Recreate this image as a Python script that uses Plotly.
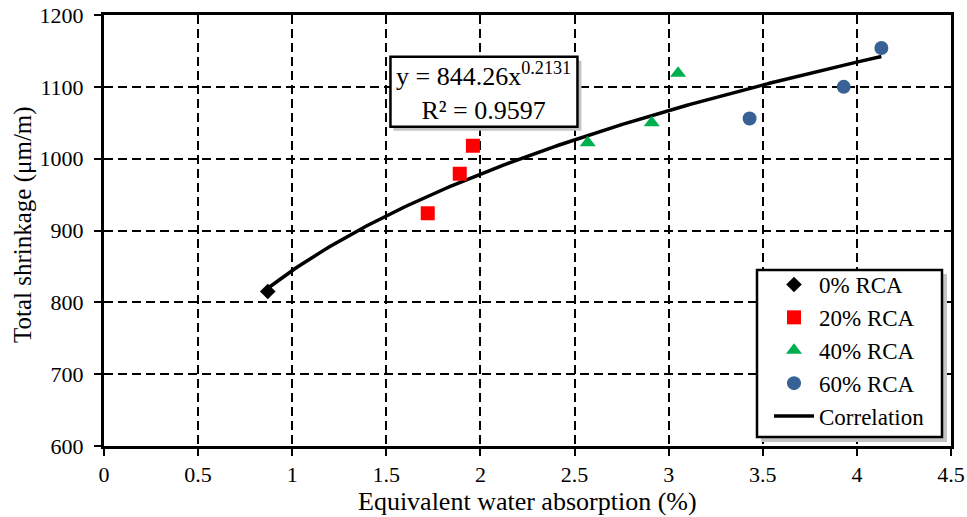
import numpy as np
import plotly.graph_objects as go

# Data
x0 = [0.87]
y0 = [815]
x20 = [1.72, 1.89, 1.96]
y20 = [924, 979, 1018]
x40 = [2.57, 2.91, 3.05]
y40 = [1022, 1050, 1119]
x60 = [3.43, 3.93, 4.13]
y60 = [1056, 1100, 1154]
fit_a = 844.26
fit_b = 0.2131
r2 = 0.9597
x_title = "Equivalent water absorption (%)"
y_title = "Total shrinkage (μm/m)"

FONT = "Liberation Serif, Times New Roman, serif"

all_x = x0 + x20 + x40 + x60
xc = np.linspace(min(all_x), max(all_x), 200)
yc = fit_a * xc ** fit_b

fig = go.Figure()
fig.add_trace(go.Scatter(x=xc, y=yc, mode="lines", name="Correlation",
                         line=dict(color="black", width=3.5), legendrank=5))
fig.add_trace(go.Scatter(x=x0, y=y0, mode="markers", name="0% RCA",
                         marker=dict(symbol="diamond", size=12, color="black"),
                         legendrank=1))
fig.add_trace(go.Scatter(x=x20, y=y20, mode="markers", name="20% RCA",
                         marker=dict(symbol="square", size=14, color="#FF0000"),
                         legendrank=2))
fig.add_trace(go.Scatter(x=x40, y=y40, mode="markers", name="40% RCA",
                         marker=dict(symbol="triangle-up", size=14, color="#00B050"),
                         legendrank=3))
fig.add_trace(go.Scatter(x=x60, y=y60, mode="markers", name="60% RCA",
                         marker=dict(symbol="circle", size=14, color="#386296"),
                         legendrank=4))

ML, MR, MT, MB = 104, 16, 15, 71
W, H = 967, 517
pw, ph = W - ML - MR, H - MT - MB

def px2paper(px, py):
    return (px - ML) / pw, (H - MB - py) / ph

# equation box (shadow + frame) anchored at the annotation position
eq_x, eq_y = 2.016, 1093
fig.add_shape(type="rect", xref="x", yref="y", xsizemode="pixel", ysizemode="pixel",
              xanchor=eq_x, yanchor=eq_y, x0=-90, x1=98, y0=-39, y1=31,
              fillcolor="#C4C4C4", line=dict(width=0), layer="above")
fig.add_shape(type="rect", xref="x", yref="y", xsizemode="pixel", ysizemode="pixel",
              xanchor=eq_x, yanchor=eq_y, x0=-93, x1=94, y0=-35, y1=35,
              fillcolor="white", line=dict(width=2.5, color="black"), layer="above")
eq_text = f"y = {fit_a:.2f}x<sup>{fit_b}</sup><br>R² = {r2}"
fig.add_annotation(x=eq_x, y=eq_y, xref="x", yref="y", text=eq_text, showarrow=False,
                   font=dict(family=FONT, size=26, color="black"), align="center")

# legend box (shadow + frame)
sx0, sy0 = px2paper(761, 442)
sx1, sy1 = px2paper(947, 274)
fig.add_shape(type="rect", xref="paper", yref="paper", x0=sx0, y0=sy0, x1=sx1, y1=sy1,
              fillcolor="#C4C4C4", line=dict(width=0), layer="above")
bx0, by0 = px2paper(757, 437)
bx1, by1 = px2paper(942, 270)
fig.add_shape(type="rect", xref="paper", yref="paper", x0=bx0, y0=by0, x1=bx1, y1=by1,
              fillcolor="white", line=dict(width=2.5, color="black"), layer="above")

lx, ly = px2paper(769, 263)

# axis titles
tx, ty = px2paper(527, 502)
fig.add_annotation(x=tx, y=ty, xref="paper", yref="paper", text=x_title, showarrow=False,
                   font=dict(family=FONT, size=26, color="black"),
                   xanchor="center", yanchor="middle")
tx, ty = px2paper(23, 225)
fig.add_annotation(x=tx, y=ty, xref="paper", yref="paper", text=y_title, showarrow=False,
                   textangle=-90, font=dict(family=FONT, size=25, color="black"),
                   xanchor="center", yanchor="middle")

axis_common = dict(
    showline=True, linecolor="black", linewidth=3, mirror=True,
    ticks="outside", ticklen=7, tickwidth=2, tickcolor="black",
    showgrid=True, gridcolor="black", gridwidth=1.5, griddash="9px,5px",
    zeroline=False, tickfont=dict(family=FONT, size=22, color="black"),
    automargin=False,
)

fig.update_layout(
    width=W, height=H,
    margin=dict(l=ML, r=MR, t=MT, b=MB),
    paper_bgcolor="white", plot_bgcolor="white",
    showlegend=True,
    legend=dict(x=lx, y=ly, xanchor="left", yanchor="top",
                bgcolor="rgba(0,0,0,0)", borderwidth=0, itemwidth=40,
                font=dict(family=FONT, size=23, color="black"),
                tracegroupgap=6, traceorder="normal"),
    xaxis=dict(range=[0, 4.5], dtick=0.5, **axis_common),
    yaxis=dict(range=[600, 1200], dtick=100, ticklabelstandoff=6, **axis_common),
)

fig.write_html("out.html")
